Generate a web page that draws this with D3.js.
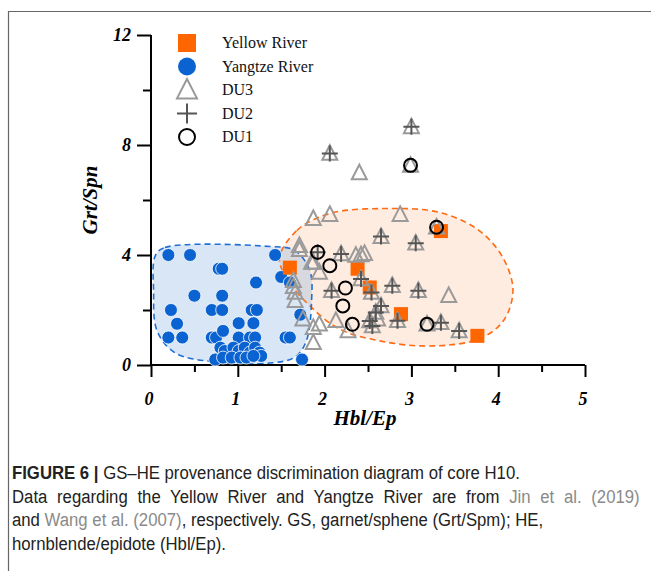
<!DOCTYPE html>
<html>
<head>
<meta charset="utf-8">
<script src="https://d3js.org/d3.v7.min.js"></script>
<style>
  body { margin: 0; background: #fff; }
  svg { display: block; }
</style>
</head>
<body>
<svg id="chart" width="651" height="571"></svg>
<script>
// GS-HE provenance diagram
const xTicks = [0, 1, 2, 3, 4, 5];
const yTicks = [0, 4, 8, 12];

const yangtze = [
  [0.20,4.0],[0.45,4.0],[1.43,4.0],[0.78,3.5],[0.82,3.5],[1.21,3.0],[1.50,3.2],[1.60,3.0],
  [0.50,2.52],[0.82,2.52],[0.23,2.0],[0.70,2.0],[0.82,2.0],[1.16,2.0],[1.22,2.0],[0.30,1.5],
  [1.01,1.52],[1.18,1.52],[1.72,1.83],[0.20,1.0],[0.36,1.0],[0.70,1.0],[0.75,1.0],[0.83,1.24],
  [1.01,1.0],[1.14,1.0],[1.20,1.0],[1.55,1.0],[1.60,1.0],[0.80,0.63],[0.85,0.51],[0.95,0.63],
  [1.01,0.51],[1.08,0.63],[1.14,0.45],[1.20,0.63],[1.25,0.45],[1.27,0.33],[0.74,0.2],[0.83,0.27],
  [0.93,0.27],[1.03,0.27],[1.10,0.27],[1.18,0.33],[1.74,0.2]
];
const yellow = [[1.60,3.54],[2.38,3.5],[2.52,2.82],[2.88,1.85],[3.76,1.06],[3.34,4.87]];
const du3 = [
  [3.00,8.66],[2.06,7.69],[2.40,6.98],[2.99,7.26],[1.87,5.32],[2.06,5.47],[2.87,5.47],[3.29,5.01],
  [2.65,4.67],[3.05,4.43],[1.71,4.19],[2.19,4.04],[2.36,3.98],[2.42,4.0],[2.46,4.05],[1.87,3.73],
  [1.94,3.37],[1.64,3.07],[1.66,2.64],[1.66,2.34],[1.64,2.85],[2.42,3.13],[2.08,2.70],[2.78,2.88],
  [3.08,2.70],[3.43,2.52],[2.65,2.15],[2.59,1.91],[1.75,1.67],[1.94,1.48],[2.13,1.61],[2.55,1.42],
  [2.61,1.67],[2.84,1.61],[3.18,1.48],[3.34,1.54],[3.55,1.24],[1.87,0.81],[2.27,1.24],[2.52,1.6],
  [1.87,1.36],[2.54,2.64],[1.71,4.34],[1.85,3.73]
];
const du2 = [
  [3.00,8.66],[2.06,7.69],[2.65,4.67],[3.05,4.43],[1.92,4.10],[2.19,4.04],[2.42,3.13],[2.08,2.70],
  [2.54,2.64],[2.78,2.88],[3.08,2.70],[2.65,2.15],[2.59,1.91],[2.55,1.42],[2.84,1.61],[3.34,1.54],
  [3.55,1.24],[2.52,1.6]
];
const du1 = [[2.99,7.26],[3.29,5.01],[1.92,4.10],[2.06,3.61],[2.24,2.8],[2.21,2.15],[2.32,1.48],[3.18,1.48]];

// field outlines (data units)
const blueField = [[0.05,3.98],[0.16,4.27],[1.37,4.31],[1.66,4.16],[1.83,3.43],[1.85,2.34],[1.79,0.88],
  [1.66,0.29],[1.37,0.07],[0.74,0.11],[0.28,0.44],[0.07,1.24],[0.03,2.70]];
const orangeField = [[1.48,3.87],[1.68,4.89],[2.06,5.51],[2.69,5.69],[3.32,5.55],[3.78,4.89],[4.06,3.87],
  [4.17,2.70],[4.06,1.61],[3.78,0.95],[3.20,0.69],[2.63,0.88],[2.17,1.31],[1.83,2.15],[1.60,2.99]];

const legendItems = ['Yellow River', 'Yangtze River', 'DU3', 'DU2', 'DU1'];

const svg = d3.select('#chart');
const serif = 'Liberation Serif, Times New Roman, serif';
const sans = 'Liberation Sans, Arial, sans-serif';

// outer frame
svg.append('path')
  .attr('d', 'M8.5,571 V11.5 H651')
  .attr('fill', 'none').attr('stroke', '#666').attr('stroke-width', 1.2);

const x = d3.scaleLinear().domain([0, 5]).range([151, 585]);
const y = d3.scaleLinear().domain([0, 12]).range([365, 35]);

// fields
const area = d3.line().x(d => x(d[0])).y(d => y(d[1])).curve(d3.curveCatmullRomClosed.alpha(0.5));
svg.append('path').attr('d', area(orangeField)).attr('fill', 'rgba(250,170,120,0.22)');
svg.append('path').attr('d', area(blueField)).attr('fill', 'rgba(120,165,220,0.28)');
svg.append('path').attr('d', area(orangeField)).attr('fill', 'none')
  .attr('stroke', '#ff6a13').attr('stroke-width', 1.6).attr('stroke-dasharray', '6,4');
svg.append('path').attr('d', area(blueField)).attr('fill', 'none')
  .attr('stroke', '#1f6fd6').attr('stroke-width', 1.6).attr('stroke-dasharray', '6,4');

// axes
const xAxis = svg.append('g').attr('transform', `translate(0,${y(0)})`);
xAxis.call(d3.axisBottom(x).tickValues(d3.range(0, 5.01, 0.5)).tickSize(7).tickFormat(''));
xAxis.selectAll('.tick line').filter(d => Number.isInteger(d)).attr('y2', 12);
const yAxis = svg.append('g').attr('transform', `translate(${x(0)},0)`);
yAxis.call(d3.axisLeft(y).tickValues(d3.range(0, 12.01, 2)).tickSize(8).tickFormat(''));
yAxis.selectAll('.tick line').filter(d => d % 4 === 0).attr('x2', -14);
svg.selectAll('.domain').attr('stroke', '#000').attr('stroke-width', 2);
svg.selectAll('.tick line').attr('stroke', '#000').attr('stroke-width', 2);
xAxis.select('.domain').attr('d', `M${x(0)},0H${x(5)}`);
yAxis.select('.domain').attr('d', `M0,${y(0)}V${y(12)}`);

svg.append('g').selectAll('text').data(xTicks).join('text')
  .attr('x', d => x(d) - 2).attr('y', 405)
  .attr('text-anchor', 'middle')
  .attr('font-family', serif).attr('font-size', 18).attr('font-weight', 'bold').attr('font-style', 'italic')
  .text(d => d);
svg.append('g').selectAll('text').data(yTicks).join('text')
  .attr('x', 131).attr('y', d => y(d) + 6)
  .attr('text-anchor', 'end')
  .attr('font-family', serif).attr('font-size', 18).attr('font-weight', 'bold').attr('font-style', 'italic')
  .text(d => d);

svg.append('text').attr('x', 365).attr('y', 425).attr('text-anchor', 'middle')
  .attr('font-family', serif).attr('font-size', 21).attr('font-weight', 'bold').attr('font-style', 'italic')
  .text('Hbl/Ep');
svg.append('text').attr('transform', 'translate(97,200) rotate(-90)').attr('text-anchor', 'middle')
  .attr('font-family', serif).attr('font-size', 21).attr('font-weight', 'bold').attr('font-style', 'italic')
  .text('Grt/Spn');

// symbol painters
const tri = (s) => `M0,${-s * 0.55}L${s / 2},${s * 0.42}L${-s / 2},${s * 0.42}Z`;
const plus = (s) => `M${-s / 2},0H${s / 2}M0,${-s / 2}V${s / 2}`;

const pts = svg.append('g');
pts.selectAll('.yz').data(yangtze).join('circle').attr('class', 'yz')
  .attr('cx', d => x(d[0])).attr('cy', d => y(d[1])).attr('r', 6.5)
  .attr('fill', '#0b63d1').attr('stroke', '#fff').attr('stroke-width', 0.8);
pts.selectAll('.yr').data(yellow).join('rect').attr('class', 'yr')
  .attr('x', d => x(d[0]) - 7).attr('y', d => y(d[1]) - 7).attr('width', 14).attr('height', 14)
  .attr('fill', '#ff6600');
pts.selectAll('.d3').data(du3).join('path').attr('class', 'd3')
  .attr('transform', d => `translate(${x(d[0])},${y(d[1])})`).attr('d', tri(15))
  .attr('fill', 'none').attr('stroke', '#9a9a9a').attr('stroke-width', 2);
pts.selectAll('.d2').data(du2).join('path').attr('class', 'd2')
  .attr('transform', d => `translate(${x(d[0])},${y(d[1])})`).attr('d', plus(16))
  .attr('fill', 'none').attr('stroke', '#555').attr('stroke-width', 2);
pts.selectAll('.d1').data(du1).join('circle').attr('class', 'd1')
  .attr('cx', d => x(d[0])).attr('cy', d => y(d[1])).attr('r', 6.5)
  .attr('fill', 'none').attr('stroke', '#000').attr('stroke-width', 2);

// legend
const lg = svg.append('g');
const ly = d => 43 + d * 23.5;
legendItems.forEach((name, i) => {
  const g = lg.append('g').attr('transform', `translate(187,${ly(i)})`);
  if (i === 0) g.append('rect').attr('x', -9).attr('y', -9).attr('width', 18).attr('height', 18).attr('fill', '#ff6600');
  if (i === 1) g.append('circle').attr('r', 9).attr('fill', '#0b63d1');
  if (i === 2) g.append('path').attr('d', tri(20)).attr('fill', 'none').attr('stroke', '#999').attr('stroke-width', 2);
  if (i === 3) g.append('path').attr('d', plus(20)).attr('fill', 'none').attr('stroke', '#555').attr('stroke-width', 2);
  if (i === 4) g.append('circle').attr('r', 8).attr('fill', 'none').attr('stroke', '#000').attr('stroke-width', 2);
  lg.append('text').attr('x', 222).attr('y', ly(i) + 5)
    .attr('font-family', serif).attr('font-size', 16).attr('fill', '#111').text(name);
});

// caption (condensed look: squeeze horizontally)
const cap = svg.append('g').attr('transform', 'translate(12,0) scale(0.9,1)')
  .append('text').attr('font-family', sans).attr('font-size', 18.6).attr('fill', '#222');
const line1 = cap.append('tspan').attr('x', 0).attr('y', 479);
line1.append('tspan').attr('font-weight', 'bold').text('FIGURE 6 | ');
line1.append('tspan').text('GS–HE provenance discrimination diagram of core H10.');
const line2 = cap.append('tspan').attr('x', 0).attr('y', 503).attr('word-spacing', 5.6);
line2.append('tspan').text('Data regarding the Yellow River and Yangtze River are from ');
line2.append('tspan').attr('fill', '#8a8a8a').text('Jin et al. (2019)');
const line3 = cap.append('tspan').attr('x', 0).attr('y', 526);
line3.append('tspan').text('and ');
line3.append('tspan').attr('fill', '#8a8a8a').text('Wang et al. (2007)');
line3.append('tspan').text(', respectively. GS, garnet/sphene (Grt/Spm); HE,');
cap.append('tspan').attr('x', 0).attr('y', 550).text('hornblende/epidote (Hbl/Ep).');
</script>
</body>
</html>
